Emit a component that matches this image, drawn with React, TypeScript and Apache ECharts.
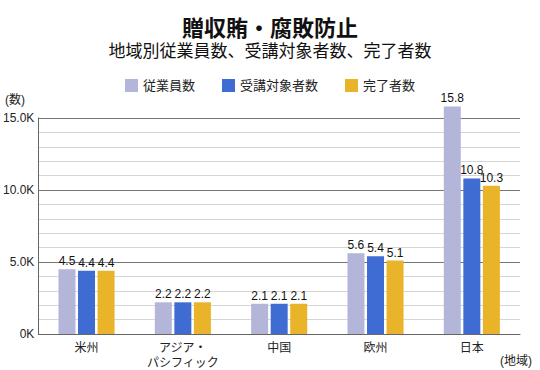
import React, { useEffect, useRef } from "react";
import * as echarts from "echarts";

const categories = ["米州", "アジア・\nパシフィック", "中国", "欧州", "日本"];
const seriesNames = ["従業員数", "受講対象者数", "完了者数"];
const employees = [4500, 2200, 2100, 5600, 15800];
const targets = [4400, 2200, 2100, 5400, 10800];
const completed = [4400, 2200, 2100, 5100, 10300];
const colors = ["#b3b6d9", "#3f6cd3", "#e9b32a"];
const yTicks = [0, 5000, 10000, 15000];

const FONT = "'Liberation Sans', 'Noto Sans CJK JP', sans-serif";

export default function App() {
  const ref = useRef<HTMLDivElement>(null);
  useEffect(() => {
    document.body.style.margin = "0";
    if (!ref.current) return;
    const chart = echarts.init(ref.current, undefined, { renderer: "svg" });
    const values = [employees, targets, completed];
    chart.setOption({
      animation: false,
      backgroundColor: "#ffffff",
      textStyle: { fontFamily: FONT },
      title: [
        {
          text: "贈収賄・腐敗防止",
          left: "center",
          top: 12,
          textStyle: { fontSize: 22, fontWeight: "bold", color: "#111", fontFamily: FONT },
        },
        {
          text: "地域別従業員数、受講対象者数、完了者数",
          left: "center",
          top: 38,
          textStyle: { fontSize: 17, fontWeight: "normal", color: "#111", fontFamily: FONT },
        },
      ],
      legend: {
        top: 74,
        left: "center",
        itemWidth: 13,
        itemHeight: 13,
        itemGap: 27,
        icon: "rect",
        textStyle: { fontSize: 13, color: "#222", fontFamily: FONT },
        data: seriesNames,
      },
      grid: { left: 38, right: 20, top: 118, bottom: 33, containLabel: false },
      xAxis: {
        type: "category",
        data: categories,
        axisLine: { show: true, lineStyle: { color: "#666", width: 1 } },
        axisTick: { show: false },
        axisLabel: { fontSize: 12, color: "#222", lineHeight: 15, margin: 6, fontFamily: FONT },
      },
      yAxis: {
        type: "value",
        min: 0,
        max: yTicks[yTicks.length - 1],
        interval: 5000,
        axisLine: { show: true, lineStyle: { color: "#666", width: 1 } },
        axisTick: { show: false },
        axisLabel: {
          fontSize: 12,
          color: "#222",
          margin: 4,
          formatter: (v: number) => (v === 0 ? "0K" : (v / 1000).toFixed(1) + "K"),
        },
        splitLine: { show: true, lineStyle: { color: "#777", width: 1 } },
        minorTick: { show: false, splitNumber: 5 },
        minorSplitLine: { show: true, lineStyle: { color: "#d6d6d6", width: 1 } },
      },
      series: seriesNames.map((name, i) => ({
        name,
        type: "bar",
        data: values[i],
        barWidth: 17,
        barGap: "15%",
        clip: false,
        itemStyle: { color: colors[i] },
        label: {
          show: true,
          position: "top",
          distance: 2,
          fontSize: 12,
          color: "#111",
          formatter: (p: any) => (p.value / 1000).toFixed(1),
        },
      })),
      graphic: [
        { type: "text", left: 5, top: 94, style: { text: "(数)", fill: "#222", font: `12px ${FONT}` } },
        { type: "text", right: 8, top: 355, style: { text: "(地域)", fill: "#222", font: `12px ${FONT}` } },
      ],
    });
    return () => chart.dispose();
  }, []);
  return <div ref={ref} style={{ width: 540, height: 370 }} />;
}
